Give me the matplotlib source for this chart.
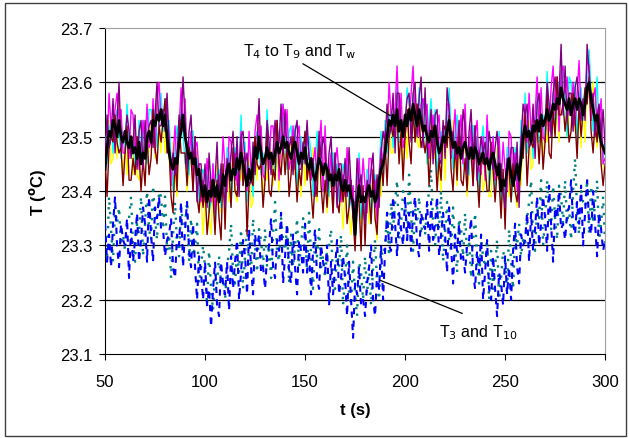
import matplotlib.pyplot as plt
import matplotlib.patches as patches
import numpy as np

# time axis, one reading per second
t = np.arange(50, 301)

# T4..T9 (coloured) and Tw (black)
tw_black = [
    23.44, 23.48, 23.51, 23.50, 23.53, 23.52, 23.50, 23.53, 23.50, 23.49,
    23.51, 23.49, 23.48, 23.50, 23.47, 23.48, 23.46, 23.49, 23.45, 23.47,
    23.46, 23.50, 23.51, 23.49, 23.53, 23.52, 23.54, 23.53, 23.55, 23.52,
    23.54, 23.50, 23.47, 23.45, 23.44, 23.46, 23.45, 23.49, 23.51, 23.54,
    23.50, 23.48, 23.46, 23.47, 23.45, 23.46, 23.43, 23.44, 23.41, 23.39,
    23.41, 23.38, 23.40, 23.39, 23.42, 23.39, 23.41, 23.38, 23.40, 23.43,
    23.41, 23.44, 23.45, 23.42, 23.44, 23.43, 23.46, 23.44, 23.47, 23.45,
    23.43, 23.41, 23.44, 23.42, 23.45, 23.48, 23.46, 23.50, 23.47, 23.45,
    23.46, 23.48, 23.46, 23.47, 23.45, 23.47, 23.49, 23.47, 23.48, 23.50,
    23.48, 23.49, 23.47, 23.46, 23.48, 23.49, 23.47, 23.45, 23.47, 23.46,
    23.48, 23.45, 23.44, 23.46, 23.43, 23.42, 23.44, 23.46, 23.45, 23.43,
    23.45, 23.44, 23.42, 23.43, 23.41, 23.43, 23.42, 23.44, 23.41, 23.40,
    23.42, 23.40, 23.41, 23.39, 23.38, 23.32, 23.38, 23.41, 23.38, 23.39,
    23.38, 23.40, 23.41, 23.39, 23.40, 23.38, 23.39, 23.42, 23.44, 23.45,
    23.47, 23.50, 23.53, 23.52, 23.54, 23.52, 23.55, 23.51, 23.53, 23.50,
    23.54, 23.52, 23.55, 23.53, 23.56, 23.54, 23.52, 23.55, 23.53, 23.51,
    23.52, 23.50, 23.49, 23.51, 23.50, 23.52, 23.49, 23.47, 23.48, 23.50,
    23.49, 23.51, 23.53, 23.50, 23.48, 23.49, 23.47, 23.48, 23.46, 23.48,
    23.49, 23.47, 23.46, 23.48, 23.46, 23.48, 23.47, 23.45, 23.46, 23.47,
    23.45, 23.46, 23.44, 23.46, 23.47, 23.45, 23.43, 23.45, 23.40, 23.42,
    23.41, 23.44, 23.46, 23.43, 23.41, 23.43, 23.45, 23.42, 23.46, 23.50,
    23.52, 23.50, 23.51, 23.49, 23.52, 23.51, 23.53, 23.51, 23.54, 23.52,
    23.53, 23.55, 23.53, 23.54, 23.56, 23.55, 23.57, 23.56, 23.59, 23.57,
    23.56, 23.55, 23.57, 23.54, 23.56, 23.57, 23.55, 23.57, 23.56, 23.54,
    23.56, 23.59, 23.60, 23.57, 23.55, 23.53, 23.54, 23.51, 23.49, 23.48,
    23.47]

t_magenta = [
    23.48, 23.47, 23.58, 23.52, 23.50, 23.55, 23.58, 23.53, 23.55, 23.47,
    23.47, 23.51, 23.46, 23.55, 23.54, 23.47, 23.50, 23.44, 23.48, 23.53,
    23.48, 23.56, 23.48, 23.49, 23.57, 23.47, 23.57, 23.60, 23.53, 23.53,
    23.53, 23.55, 23.50, 23.41, 23.46, 23.52, 23.43, 23.51, 23.59, 23.51,
    23.57, 23.46, 23.47, 23.51, 23.40, 23.48, 23.49, 23.43, 23.38, 23.42,
    23.38, 23.46, 23.42, 23.38, 23.45, 23.36, 23.41, 23.43, 23.41, 23.50,
    23.44, 23.40, 23.50, 23.49, 23.44, 23.47, 23.41, 23.45, 23.51, 23.45,
    23.47, 23.40, 23.51, 23.44, 23.42, 23.51, 23.54, 23.50, 23.52, 23.43,
    23.42, 23.50, 23.44, 23.52, 23.52, 23.46, 23.53, 23.42, 23.51, 23.56,
    23.50, 23.55, 23.44, 23.46, 23.52, 23.44, 23.50, 23.52, 23.45, 23.47,
    23.47, 23.50, 23.47, 23.42, 23.45, 23.48, 23.42, 23.48, 23.53, 23.40,
    23.52, 23.42, 23.43, 23.47, 23.36, 23.45, 23.48, 23.43, 23.38, 23.43,
    23.39, 23.48, 23.43, 23.38, 23.41, 23.33, 23.38, 23.46, 23.39, 23.46,
    23.41, 23.36, 23.46, 23.46, 23.40, 23.42, 23.34, 23.43, 23.48, 23.45,
    23.51, 23.49, 23.60, 23.54, 23.51, 23.55, 23.63, 23.51, 23.58, 23.48,
    23.50, 23.54, 23.53, 23.58, 23.63, 23.53, 23.56, 23.50, 23.56, 23.57,
    23.54, 23.56, 23.46, 23.51, 23.54, 23.47, 23.52, 23.54, 23.46, 23.51,
    23.48, 23.56, 23.56, 23.46, 23.50, 23.55, 23.45, 23.50, 23.54, 23.45,
    23.56, 23.45, 23.47, 23.52, 23.41, 23.50, 23.53, 23.44, 23.43, 23.50,
    23.42, 23.54, 23.46, 23.45, 23.50, 23.42, 23.43, 23.50, 23.41, 23.49,
    23.44, 23.40, 23.51, 23.50, 23.41, 23.47, 23.40, 23.43, 23.50, 23.50,
    23.56, 23.49, 23.58, 23.51, 23.49, 23.54, 23.61, 23.51, 23.59, 23.50,
    23.49, 23.57, 23.51, 23.59, 23.63, 23.54, 23.61, 23.51, 23.62, 23.63,
    23.58, 23.61, 23.54, 23.54, 23.60, 23.52, 23.58, 23.64, 23.54, 23.55,
    23.55, 23.64, 23.63, 23.53, 23.57, 23.59, 23.52, 23.53, 23.57, 23.45,
    23.46]

t_purple = [
    23.46, 23.54, 23.48, 23.50, 23.57, 23.47, 23.53, 23.60, 23.48, 23.50,
    23.50, 23.54, 23.51, 23.46, 23.49, 23.54, 23.44, 23.51, 23.53, 23.44,
    23.53, 23.48, 23.52, 23.53, 23.48, 23.54, 23.60, 23.52, 23.52, 23.55,
    23.51, 23.58, 23.49, 23.44, 23.47, 23.43, 23.45, 23.54, 23.52, 23.61,
    23.53, 23.44, 23.51, 23.54, 23.45, 23.50, 23.38, 23.45, 23.45, 23.39,
    23.45, 23.37, 23.47, 23.41, 23.39, 23.42, 23.49, 23.38, 23.45, 23.41,
    23.37, 23.46, 23.43, 23.47, 23.51, 23.42, 23.50, 23.39, 23.50, 23.51,
    23.45, 23.47, 23.41, 23.42, 23.49, 23.43, 23.49, 23.57, 23.45, 23.46,
    23.45, 23.53, 23.49, 23.43, 23.47, 23.53, 23.47, 23.49, 23.56, 23.47,
    23.55, 23.47, 23.48, 23.50, 23.43, 23.51, 23.53, 23.44, 23.44, 23.49,
    23.45, 23.53, 23.46, 23.45, 23.46, 23.39, 23.44, 23.51, 23.46, 23.50,
    23.48, 23.40, 23.47, 23.50, 23.41, 23.47, 23.37, 23.45, 23.45, 23.40,
    23.46, 23.39, 23.48, 23.41, 23.35, 23.35, 23.46, 23.41, 23.43, 23.37,
    23.34, 23.42, 23.39, 23.44, 23.47, 23.37, 23.43, 23.37, 23.47, 23.51,
    23.49, 23.56, 23.50, 23.52, 23.58, 23.47, 23.58, 23.58, 23.51, 23.51,
    23.53, 23.57, 23.58, 23.49, 23.58, 23.60, 23.50, 23.57, 23.61, 23.48,
    23.59, 23.48, 23.50, 23.55, 23.45, 23.54, 23.55, 23.46, 23.45, 23.53,
    23.46, 23.59, 23.55, 23.49, 23.51, 23.46, 23.47, 23.53, 23.47, 23.55,
    23.52, 23.43, 23.51, 23.55, 23.46, 23.52, 23.42, 23.46, 23.50, 23.47,
    23.49, 23.45, 23.51, 23.48, 23.44, 23.48, 23.51, 23.45, 23.45, 23.40,
    23.37, 23.46, 23.44, 23.48, 23.48, 23.42, 23.49, 23.37, 23.49, 23.56,
    23.54, 23.56, 23.48, 23.49, 23.56, 23.46, 23.56, 23.58, 23.52, 23.53,
    23.52, 23.60, 23.56, 23.50, 23.58, 23.61, 23.55, 23.58, 23.67, 23.54,
    23.63, 23.53, 23.58, 23.58, 23.51, 23.59, 23.61, 23.56, 23.53, 23.57,
    23.53, 23.67, 23.62, 23.56, 23.58, 23.50, 23.54, 23.56, 23.50, 23.55,
    23.48]

t_cyan = [
    23.50, 23.45, 23.51, 23.53, 23.47, 23.53, 23.55, 23.51, 23.46, 23.51,
    23.47, 23.56, 23.49, 23.48, 23.49, 23.44, 23.45, 23.53, 23.45, 23.53,
    23.48, 23.45, 23.55, 23.55, 23.52, 23.55, 23.48, 23.53, 23.58, 23.51,
    23.57, 23.48, 23.53, 23.46, 23.40, 23.48, 23.52, 23.48, 23.55, 23.51,
    23.45, 23.49, 23.43, 23.51, 23.51, 23.44, 23.46, 23.38, 23.43, 23.44,
    23.42, 23.43, 23.36, 23.38, 23.45, 23.33, 23.43, 23.44, 23.37, 23.43,
    23.39, 23.48, 23.47, 23.37, 23.45, 23.48, 23.43, 23.45, 23.54, 23.41,
    23.49, 23.38, 23.44, 23.45, 23.39, 23.49, 23.51, 23.48, 23.43, 23.47,
    23.42, 23.55, 23.47, 23.45, 23.47, 23.43, 23.48, 23.51, 23.48, 23.56,
    23.50, 23.44, 23.51, 23.52, 23.47, 23.52, 23.41, 23.45, 23.50, 23.45,
    23.51, 23.43, 23.50, 23.47, 23.39, 23.44, 23.51, 23.45, 23.49, 23.40,
    23.40, 23.45, 23.39, 23.47, 23.47, 23.41, 23.45, 23.38, 23.43, 23.45,
    23.43, 23.45, 23.37, 23.38, 23.41, 23.30, 23.40, 23.47, 23.35, 23.39,
    23.36, 23.44, 23.43, 23.34, 23.41, 23.43, 23.36, 23.43, 23.51, 23.41,
    23.53, 23.47, 23.53, 23.55, 23.48, 23.53, 23.60, 23.49, 23.49, 23.52,
    23.50, 23.59, 23.56, 23.51, 23.58, 23.50, 23.51, 23.59, 23.53, 23.57,
    23.54, 23.45, 23.53, 23.57, 23.49, 23.55, 23.43, 23.47, 23.51, 23.49,
    23.52, 23.49, 23.59, 23.51, 23.44, 23.51, 23.54, 23.47, 23.50, 23.45,
    23.44, 23.48, 23.43, 23.52, 23.52, 23.46, 23.50, 23.39, 23.48, 23.52,
    23.46, 23.51, 23.40, 23.45, 23.50, 23.39, 23.45, 23.51, 23.37, 23.42,
    23.39, 23.48, 23.48, 23.38, 23.42, 23.48, 23.42, 23.43, 23.53, 23.46,
    23.58, 23.47, 23.51, 23.52, 23.46, 23.52, 23.58, 23.49, 23.50, 23.54,
    23.49, 23.62, 23.54, 23.52, 23.58, 23.51, 23.56, 23.60, 23.59, 23.63,
    23.58, 23.50, 23.61, 23.60, 23.55, 23.60, 23.49, 23.57, 23.59, 23.53,
    23.59, 23.57, 23.66, 23.58, 23.51, 23.55, 23.61, 23.50, 23.53, 23.45,
    23.50]

t_yellow = [
    23.48, 23.46, 23.53, 23.45, 23.46, 23.53, 23.46, 23.58, 23.47, 23.43,
    23.49, 23.43, 23.51, 23.50, 23.43, 23.53, 23.43, 23.42, 23.47, 23.46,
    23.47, 23.45, 23.48, 23.53, 23.51, 23.46, 23.56, 23.51, 23.47, 23.55,
    23.47, 23.52, 23.46, 23.41, 23.49, 23.44, 23.39, 23.50, 23.54, 23.51,
    23.53, 23.40, 23.44, 23.48, 23.42, 23.49, 23.43, 23.39, 23.40, 23.32,
    23.38, 23.42, 23.35, 23.32, 23.42, 23.35, 23.46, 23.37, 23.36, 23.43,
    23.37, 23.45, 23.38, 23.40, 23.47, 23.40, 23.38, 23.44, 23.42, 23.47,
    23.47, 23.39, 23.46, 23.37, 23.38, 23.49, 23.42, 23.55, 23.44, 23.39,
    23.44, 23.42, 23.49, 23.47, 23.41, 23.52, 23.46, 23.40, 23.50, 23.49,
    23.49, 23.44, 23.44, 23.50, 23.46, 23.43, 23.49, 23.43, 23.39, 23.49,
    23.41, 23.47, 23.43, 23.42, 23.48, 23.40, 23.38, 23.47, 23.48, 23.40,
    23.48, 23.36, 23.40, 23.44, 23.38, 23.46, 23.42, 23.39, 23.40, 23.33,
    23.39, 23.44, 23.36, 23.32, 23.38, 23.31, 23.43, 23.40, 23.34, 23.39,
    23.34, 23.41, 23.34, 23.37, 23.43, 23.35, 23.31, 23.42, 23.39, 23.47,
    23.51, 23.48, 23.55, 23.47, 23.47, 23.53, 23.51, 23.56, 23.50, 23.44,
    23.52, 23.46, 23.58, 23.53, 23.52, 23.59, 23.49, 23.48, 23.55, 23.50,
    23.53, 23.45, 23.46, 23.55, 23.48, 23.46, 23.51, 23.45, 23.40, 23.53,
    23.42, 23.53, 23.52, 23.46, 23.53, 23.47, 23.41, 23.49, 23.49, 23.45,
    23.52, 23.39, 23.44, 23.49, 23.43, 23.51, 23.47, 23.40, 23.45, 23.40,
    23.42, 23.50, 23.39, 23.39, 23.47, 23.41, 23.48, 23.44, 23.36, 23.42,
    23.37, 23.45, 23.39, 23.41, 23.44, 23.40, 23.37, 23.42, 23.41, 23.52,
    23.56, 23.48, 23.53, 23.44, 23.45, 23.52, 23.49, 23.56, 23.51, 23.46,
    23.51, 23.49, 23.56, 23.54, 23.52, 23.60, 23.54, 23.49, 23.61, 23.56,
    23.57, 23.50, 23.54, 23.58, 23.54, 23.51, 23.57, 23.55, 23.48, 23.57,
    23.49, 23.61, 23.59, 23.53, 23.60, 23.51, 23.48, 23.52, 23.52, 23.45,
    23.43]

t_maroon = [
    23.46, 23.39, 23.48, 23.50, 23.49, 23.54, 23.49, 23.47, 23.48, 23.41,
    23.47, 23.52, 23.42, 23.42, 23.46, 23.43, 23.50, 23.47, 23.40, 23.46,
    23.41, 23.50, 23.43, 23.46, 23.55, 23.48, 23.45, 23.52, 23.49, 23.53,
    23.57, 23.47, 23.48, 23.39, 23.36, 23.46, 23.40, 23.53, 23.47, 23.47,
    23.47, 23.41, 23.48, 23.46, 23.40, 23.50, 23.39, 23.36, 23.42, 23.37,
    23.41, 23.32, 23.36, 23.42, 23.39, 23.32, 23.42, 23.35, 23.31, 23.45,
    23.33, 23.45, 23.43, 23.37, 23.48, 23.40, 23.39, 23.44, 23.49, 23.41,
    23.45, 23.32, 23.41, 23.42, 23.41, 23.50, 23.45, 23.44, 23.45, 23.37,
    23.42, 23.51, 23.40, 23.39, 23.44, 23.42, 23.53, 23.45, 23.43, 23.49,
    23.43, 23.49, 23.39, 23.43, 23.50, 23.45, 23.38, 23.44, 23.41, 23.47,
    23.51, 23.42, 23.45, 23.40, 23.35, 23.42, 23.39, 23.50, 23.41, 23.36,
    23.42, 23.37, 23.44, 23.42, 23.36, 23.47, 23.38, 23.36, 23.42, 23.38,
    23.42, 23.34, 23.37, 23.42, 23.35, 23.29, 23.39, 23.38, 23.29, 23.41,
    23.30, 23.41, 23.39, 23.34, 23.44, 23.35, 23.32, 23.42, 23.46, 23.41,
    23.49, 23.41, 23.50, 23.52, 23.50, 23.54, 23.54, 23.45, 23.51, 23.42,
    23.50, 23.55, 23.49, 23.45, 23.55, 23.49, 23.56, 23.53, 23.48, 23.50,
    23.47, 23.50, 23.41, 23.48, 23.52, 23.48, 23.40, 23.46, 23.42, 23.51,
    23.52, 23.48, 23.54, 23.44, 23.40, 23.49, 23.42, 23.52, 23.42, 23.41,
    23.46, 23.40, 23.48, 23.47, 23.41, 23.52, 23.43, 23.37, 23.47, 23.45,
    23.45, 23.40, 23.40, 23.49, 23.44, 23.38, 23.44, 23.42, 23.35, 23.44,
    23.33, 23.45, 23.44, 23.38, 23.45, 23.40, 23.38, 23.42, 23.48, 23.46,
    23.54, 23.41, 23.48, 23.49, 23.48, 23.53, 23.52, 23.45, 23.52, 23.44,
    23.49, 23.58, 23.47, 23.46, 23.55, 23.50, 23.61, 23.54, 23.54, 23.56,
    23.51, 23.55, 23.49, 23.51, 23.58, 23.53, 23.46, 23.56, 23.50, 23.55,
    23.59, 23.56, 23.61, 23.51, 23.47, 23.53, 23.49, 23.55, 23.45, 23.41,
    23.45]

# T3 (blue, dashed) and T10 (teal, dotted)
t3_blue = [
    23.34, 23.27, 23.32, 23.26, 23.34, 23.39, 23.30, 23.26, 23.34, 23.31,
    23.30, 23.35, 23.24, 23.33, 23.27, 23.31, 23.36, 23.27, 23.31, 23.37,
    23.34, 23.27, 23.39, 23.32, 23.27, 23.37, 23.35, 23.39, 23.33, 23.33,
    23.28, 23.31, 23.32, 23.35, 23.26, 23.24, 23.32, 23.30, 23.38, 23.26,
    23.33, 23.38, 23.29, 23.26, 23.34, 23.26, 23.20, 23.28, 23.25, 23.20,
    23.27, 23.19, 23.22, 23.15, 23.22, 23.27, 23.19, 23.17, 23.27, 23.23,
    23.21, 23.27, 23.18, 23.28, 23.22, 23.27, 23.31, 23.20, 23.25, 23.31,
    23.28, 23.21, 23.33, 23.26, 23.21, 23.32, 23.29, 23.32, 23.25, 23.26,
    23.22, 23.28, 23.30, 23.35, 23.26, 23.24, 23.31, 23.29, 23.36, 23.23,
    23.28, 23.34, 23.25, 23.23, 23.32, 23.26, 23.21, 23.31, 23.29, 23.25,
    23.34, 23.25, 23.29, 23.21, 23.29, 23.33, 23.24, 23.22, 23.30, 23.27,
    23.25, 23.30, 23.19, 23.27, 23.21, 23.26, 23.31, 23.21, 23.24, 23.28,
    23.24, 23.17, 23.27, 23.20, 23.13, 23.23, 23.21, 23.26, 23.19, 23.20,
    23.17, 23.23, 23.26, 23.30, 23.20, 23.17, 23.25, 23.22, 23.30, 23.20,
    23.29, 23.36, 23.30, 23.29, 23.39, 23.34, 23.28, 23.36, 23.33, 23.30,
    23.39, 23.31, 23.36, 23.29, 23.36, 23.39, 23.30, 23.28, 23.36, 23.34,
    23.33, 23.38, 23.29, 23.38, 23.31, 23.34, 23.39, 23.28, 23.32, 23.36,
    23.32, 23.25, 23.37, 23.30, 23.23, 23.32, 23.29, 23.34, 23.27, 23.28,
    23.25, 23.30, 23.31, 23.35, 23.25, 23.22, 23.29, 23.25, 23.32, 23.20,
    23.25, 23.31, 23.22, 23.20, 23.28, 23.22, 23.17, 23.25, 23.23, 23.19,
    23.28, 23.21, 23.26, 23.20, 23.29, 23.34, 23.26, 23.23, 23.32, 23.30,
    23.31, 23.36, 23.27, 23.36, 23.29, 23.33, 23.39, 23.30, 23.34, 23.39,
    23.35, 23.29, 23.41, 23.34, 23.27, 23.37, 23.35, 23.40, 23.33, 23.34,
    23.31, 23.36, 23.37, 23.42, 23.34, 23.32, 23.38, 23.34, 23.41, 23.30,
    23.36, 23.42, 23.34, 23.32, 23.40, 23.34, 23.28, 23.36, 23.33, 23.29,
    23.31]

t10_teal = [
    23.33, 23.27, 23.39, 23.33, 23.27, 23.37, 23.34, 23.37, 23.30, 23.32,
    23.29, 23.34, 23.35, 23.39, 23.30, 23.27, 23.34, 23.32, 23.39, 23.28,
    23.34, 23.40, 23.33, 23.31, 23.41, 23.35, 23.31, 23.40, 23.39, 23.33,
    23.39, 23.29, 23.32, 23.24, 23.32, 23.38, 23.30, 23.28, 23.37, 23.34,
    23.34, 23.38, 23.27, 23.35, 23.28, 23.30, 23.34, 23.23, 23.26, 23.30,
    23.26, 23.19, 23.29, 23.22, 23.18, 23.25, 23.23, 23.28, 23.23, 23.24,
    23.20, 23.26, 23.29, 23.34, 23.25, 23.23, 23.29, 23.25, 23.33, 23.22,
    23.28, 23.34, 23.27, 23.25, 23.35, 23.30, 23.25, 23.33, 23.31, 23.26,
    23.33, 23.26, 23.30, 23.24, 23.32, 23.38, 23.29, 23.27, 23.35, 23.31,
    23.29, 23.34, 23.23, 23.32, 23.26, 23.30, 23.35, 23.26, 23.30, 23.35,
    23.33, 23.25, 23.36, 23.28, 23.22, 23.31, 23.28, 23.33, 23.26, 23.28,
    23.24, 23.29, 23.30, 23.33, 23.24, 23.22, 23.29, 23.26, 23.32, 23.19,
    23.24, 23.30, 23.21, 23.19, 23.27, 23.21, 23.17, 23.27, 23.25, 23.20,
    23.28, 23.21, 23.26, 23.19, 23.26, 23.31, 23.23, 23.20, 23.29, 23.28,
    23.30, 23.36, 23.28, 23.38, 23.33, 23.38, 23.42, 23.31, 23.34, 23.40,
    23.38, 23.31, 23.43, 23.36, 23.29, 23.37, 23.34, 23.39, 23.32, 23.35,
    23.32, 23.37, 23.40, 23.44, 23.34, 23.30, 23.37, 23.33, 23.40, 23.27,
    23.32, 23.38, 23.31, 23.29, 23.37, 23.30, 23.25, 23.35, 23.33, 23.28,
    23.36, 23.28, 23.31, 23.24, 23.31, 23.36, 23.27, 23.23, 23.31, 23.28,
    23.26, 23.31, 23.20, 23.29, 23.22, 23.26, 23.31, 23.20, 23.24, 23.29,
    23.27, 23.21, 23.33, 23.27, 23.22, 23.32, 23.30, 23.34, 23.28, 23.31,
    23.30, 23.35, 23.38, 23.42, 23.32, 23.29, 23.37, 23.35, 23.42, 23.30,
    23.35, 23.42, 23.35, 23.33, 23.41, 23.35, 23.31, 23.41, 23.39, 23.34,
    23.42, 23.34, 23.37, 23.31, 23.40, 23.46, 23.36, 23.32, 23.40, 23.38,
    23.37, 23.42, 23.32, 23.41, 23.34, 23.38, 23.42, 23.31, 23.34, 23.39,
    23.30]

y_ticks = [23.1, 23.2, 23.3, 23.4, 23.5, 23.6, 23.7]
x_ticks = [50, 100, 150, 200, 250, 300]

plt.rcParams['font.family'] = ['Liberation Sans', 'DejaVu Sans']

fig = plt.figure(figsize=(6.29, 4.39), dpi=100)
ax = fig.add_axes([0.167, 0.191, 0.795, 0.743])

# outer frame around the whole chart
fig.patches.append(patches.Rectangle((0.008, 0.005), 0.988, 0.985, transform=fig.transFigure,
                                     fill=False, edgecolor='#404040', linewidth=1.0))

for yv in [23.2, 23.3, 23.4, 23.5, 23.6]:
    ax.axhline(yv, color='black', linewidth=0.9, zorder=1)

# lower pair first
ax.plot(t, t10_teal, color='#008080', linestyle=(0, (1, 3)), linewidth=1.7, zorder=2)
ax.plot(t, t3_blue, color='#0000ff', linestyle=(0, (3, 3)), linewidth=1.5, zorder=3)

ax.plot(t, t_yellow, color='#ffff00', linewidth=1.0, zorder=4)
ax.plot(t, t_cyan, color='#00ffff', linewidth=1.0, zorder=4)
ax.plot(t, t_magenta, color='#ff00ff', linewidth=1.0, zorder=4)
ax.plot(t, t_maroon, color='#800000', linewidth=1.0, zorder=5)
ax.plot(t, t_purple, color='#800080', linewidth=1.0, zorder=5)
ax.plot(t, tw_black, color='black', linewidth=2.0, zorder=6)

ax.set_xlim(50, 300)
ax.set_ylim(23.1, 23.7)
ax.set_xticks(x_ticks)
ax.set_yticks(y_ticks)
ax.set_yticklabels(['%.1f' % v for v in y_ticks])
ax.tick_params(axis='both', labelsize=12, direction='out', length=4, width=0.8)
ax.tick_params(axis='x', pad=10)
ax.tick_params(axis='y', pad=5)

ax.spines['top'].set_color('#a0a0a0')
ax.spines['right'].set_color('#a0a0a0')
ax.spines['left'].set_color('black')
ax.spines['bottom'].set_color('black')

ax.set_xlabel('t (s)', fontsize=12, fontweight='bold', labelpad=10)
ax.set_ylabel('T ($\\mathbf{^o}$C)', fontsize=12, fontweight='bold', labelpad=9)

ax.text(119, 23.658, 'T$_4$ to T$_9$ and T$_\\mathrm{w}$', fontsize=11.5, va='center', ha='left')
ax.plot([149, 192.5], [23.634, 23.539], color='black', linewidth=0.9, zorder=7)

ax.text(217, 23.142, 'T$_3$ and T$_{10}$', fontsize=11.5, va='center', ha='left')
ax.plot([187.5, 228.5], [23.236, 23.175], color='black', linewidth=0.9, zorder=7)

fig.savefig('out.png', dpi=100)
